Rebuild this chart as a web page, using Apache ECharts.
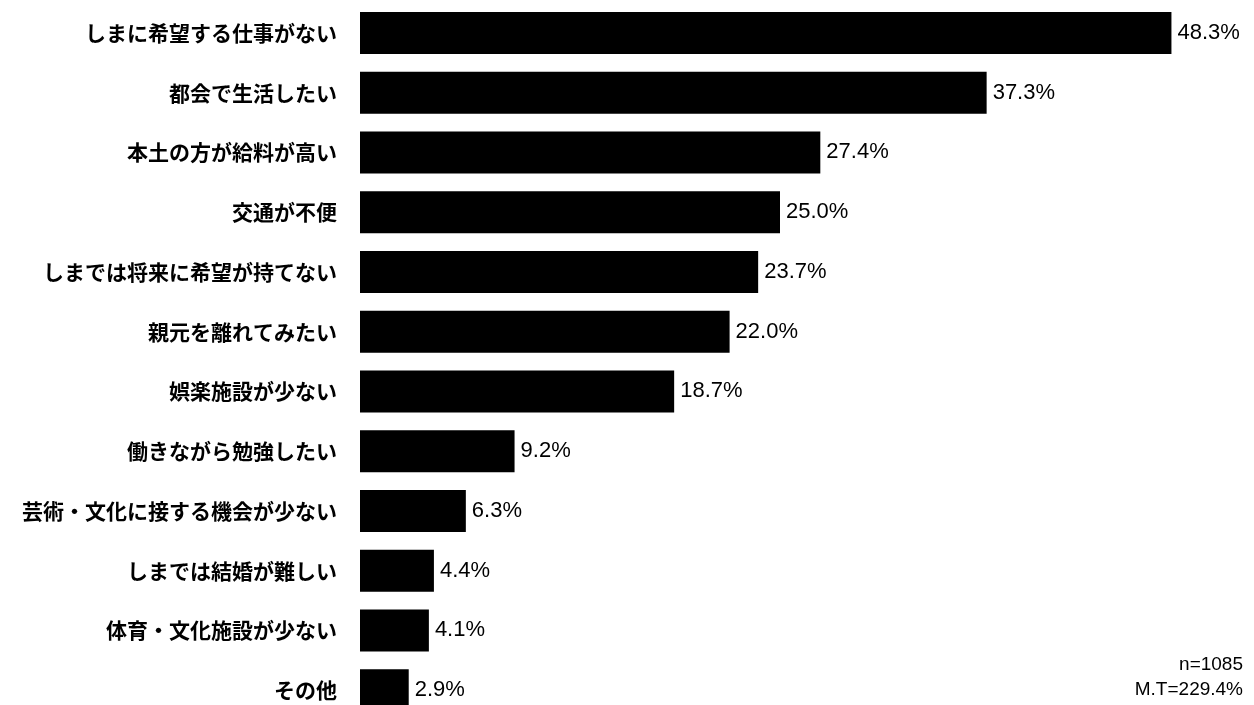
<!DOCTYPE html>
<html><head><meta charset="utf-8">
<script src="https://cdn.jsdelivr.net/npm/echarts@6/dist/echarts.min.js"></script>
<style>html,body{margin:0;padding:0;background:#fff}#c{width:1254px;height:705px}</style>
</head><body><div id="c"></div>
<script>
const categories = ["しまに希望する仕事がない","都会で生活したい","本土の方が給料が高い","交通が不便","しまでは将来に希望が持てない","親元を離れてみたい","娯楽施設が少ない","働きながら勉強したい","芸術・文化に接する機会が少ない","しまでは結婚が難しい","体育・文化施設が少ない","その他"];
const values = [48.3,37.3,27.4,25.0,23.7,22.0,18.7,9.2,6.3,4.4,4.1,2.9];
const noteLines = ["n=1085","M.T=229.4%"];

const chart = echarts.init(document.getElementById('c'));
chart.setOption({
  backgroundColor:'#fff',
  animation:false,
  grid:{left:360,width:840,top:3,height:717,containLabel:false,outerBoundsMode:'none'},
  xAxis:{type:'value',min:0,max:50,show:false},
  yAxis:{type:'category',data:categories,inverse:true,
    axisLine:{show:false},axisTick:{show:false},
    axisLabel:{margin:23,color:'#000',fontSize:21,fontWeight:'bold',fontFamily:'"Noto Sans CJK JP"'}},
  series:[{type:'bar',data:values,barWidth:42,itemStyle:{color:'#000'},
    label:{show:true,position:'right',distance:6,color:'#000',fontSize:22,fontFamily:'"Liberation Sans", Arial',
      formatter:p=>p.value.toFixed(1)+'%'}}],
  graphic:[
    {type:'text',right:11,top:655,style:{text:noteLines[0],font:'19px "Liberation Sans"',fill:'#000',textAlign:'right'}},
    {type:'text',right:11,top:680,style:{text:noteLines[1],font:'19px "Liberation Sans"',fill:'#000',textAlign:'right'}}
  ]
});
</script></body></html>
